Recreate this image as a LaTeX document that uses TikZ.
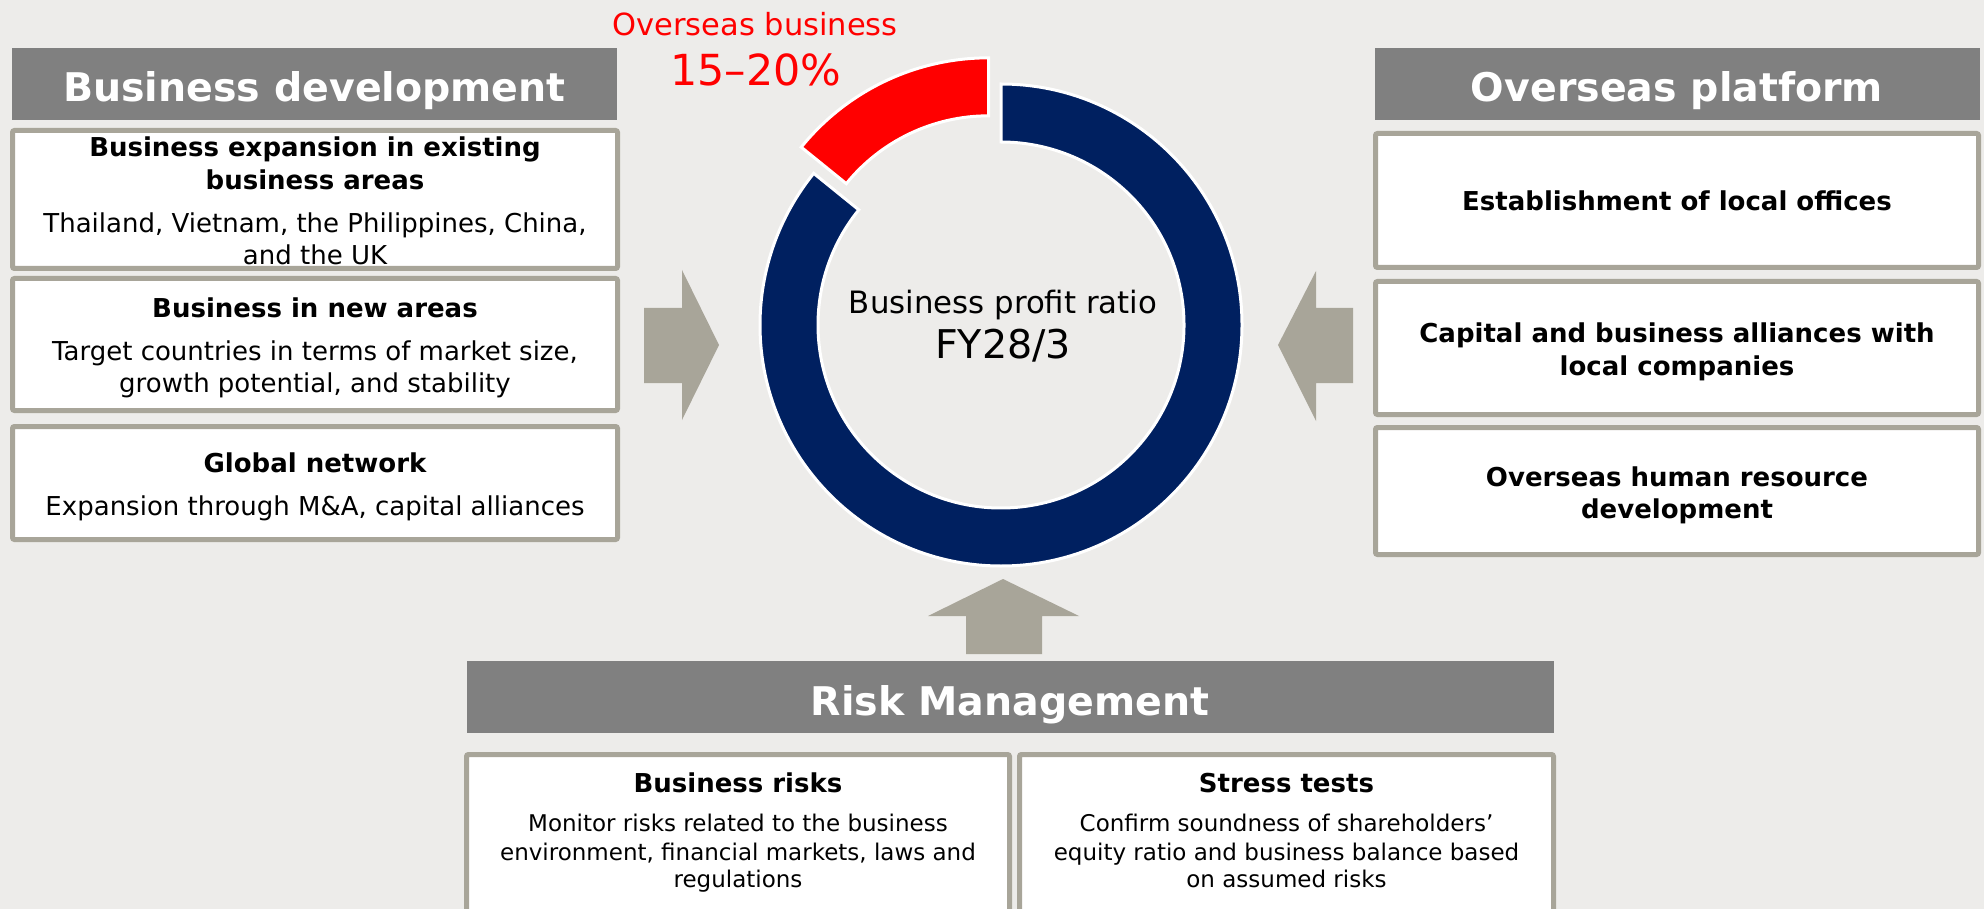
\documentclass[tikz,border=0pt]{standalone}
\usepackage{fontspec}
\setmainfont{DejaVu Sans}
\usetikzlibrary{calc}
\definecolor{bg}{RGB}{237,236,234}
\definecolor{hdr}{RGB}{128,128,128}
\definecolor{taupe}{RGB}{168,165,153}
\definecolor{navy}{RGB}{0,32,96}
\definecolor{ored}{RGB}{255,0,0}
\begin{document}
\begin{tikzpicture}[x=1pt,y=-1pt,
  hdrbox/.style={fill=hdr, draw=none, inner sep=0pt, outer sep=0pt},
  card/.style={fill=white, draw=taupe, line width=5pt, rounded corners=2pt, inner sep=0pt, outer sep=0pt},
  hdrtxt/.style={text=white, font=\bfseries\fontsize{39.5}{40}\selectfont, anchor=base, inner sep=0pt},
  ttl/.style={font=\bfseries\fontsize{26}{30}\selectfont, anchor=base, inner sep=0pt},
  bodytxt/.style={font=\fontsize{26}{30}\selectfont, anchor=base, inner sep=0pt},
  smalltxt/.style={font=\fontsize{23}{28}\selectfont, anchor=base, inner sep=0pt},
  blockarrow/.style={fill=taupe, draw=none},
  seg/.style={draw=white, line width=3pt, line join=miter}
]
\useasboundingbox (0,0) rectangle (1984,909);
\fill[bg] (0,0) rectangle (1984,909);

% ---------- Left column ----------
\node[hdrbox, minimum width=605pt, minimum height=72pt] (hBD) at (314.5,84) {};
\node[hdrtxt] (tBD) at (314.5,102) {Business development};

\node[card, minimum width=605pt, minimum height=138pt] (L1) at (315,199.5) {};
\node[ttl] (L1a) at (315,157) {Business expansion in existing};
\node[ttl] (L1b) at (315,190) {business areas};
\node[bodytxt] (L1c) at (315,233) {Thailand, Vietnam, the Philippines, China,};
\node[bodytxt] (L1d) at (315,265) {and the UK};

\node[card, minimum width=605pt, minimum height=132pt] (L2) at (315,344.5) {};
\node[ttl] (L2a) at (315,318) {Business in new areas};
\node[bodytxt] (L2b) at (315,360) {Target countries in terms of market size,};
\node[bodytxt] (L2c) at (315,392) {growth potential, and stability};

\node[card, minimum width=605pt, minimum height=113pt] (L3) at (315,483) {};
\node[ttl] (L3a) at (315,472) {Global network};
\node[bodytxt] (L3b) at (315,515) {Expansion through M\&A, capital alliances};

% ---------- Right column ----------
\node[hdrbox, minimum width=605pt, minimum height=72pt] (hOP) at (1677.5,84) {};
\node[hdrtxt] (tOP) at (1677,102) {Overseas platform};

\node[card, minimum width=603pt, minimum height=134pt] (R1) at (1677,200.5) {};
\node[ttl] (R1a) at (1677,211) {Establishment of local offices};

\node[card, minimum width=603pt, minimum height=133pt] (R2) at (1677,348) {};
\node[ttl] (R2a) at (1677,342) {Capital and business alliances with};
\node[ttl] (R2b) at (1677,375) {local companies};

\node[card, minimum width=603pt, minimum height=127pt] (R3) at (1677,491) {};
\node[ttl] (R3a) at (1677,486) {Overseas human resource};
\node[ttl] (R3b) at (1677,518) {development};

% ---------- Donut ----------
\coordinate (C) at (1001,325);
\coordinate (C2) at ($(C)+(-115.5:29)$);
\fill[navy, seg] ($(C)+(-90:241)$) arc[start angle=-90, end angle=219, radius=241]
  -- ($(C)+(219:183)$) arc[start angle=219, end angle=-90, radius=183] -- cycle;
\fill[ored, seg] ($(C2)+(-90:241)$) arc[start angle=-90, end angle=-141, radius=241]
  -- ($(C2)+(-141:183)$) arc[start angle=-141, end angle=-90, radius=183] -- cycle;
\node[font=\fontsize{30.8}{34}\selectfont, anchor=base, inner sep=0pt] (ctr1) at (1003,313) {Business profit ratio};
\node[font=\fontsize{39.6}{42}\selectfont, anchor=base, inner sep=0pt] (ctr2) at (1003,358) {FY28/3};

\node[text=ored, font=\fontsize{30.5}{34}\selectfont, anchor=base, inner sep=0pt] (red1) at (755,36) {Overseas business};
\node[text=ored, font=\fontsize{42.8}{46}\selectfont, anchor=base, inner sep=0pt] (red2) at (756,86) {15–20\%};

% ---------- Block arrows ----------
\fill[blockarrow] (644,308) -- (682,308) -- (682,270) -- (719,345) -- (682,420) -- (682,383) -- (644,383) -- cycle;
\fill[blockarrow] (1353,308) -- (1316,308) -- (1316,271) -- (1278,345) -- (1316,421) -- (1316,383) -- (1353,383) -- cycle;
\fill[blockarrow] (966,654) -- (966,616) -- (928,616) -- (1003,579) -- (1079,616) -- (1042,616) -- (1042,654) -- cycle;

% ---------- Risk management ----------
\node[hdrbox, minimum width=1087pt, minimum height=72pt] (hRM) at (1010.5,697) {};
\node[hdrtxt] (tRM) at (1010,715) {Risk Management};

\begin{scope}
\clip (0,0) rectangle (1984,909);
\node[card, minimum width=543pt, minimum height=173pt] (B1) at (738,841) {};
\node[card, minimum width=534pt, minimum height=173pt] (B2) at (1286.5,841) {};
\end{scope}
\node[ttl] (B1a) at (738,792) {Business risks};
\node[smalltxt] (B1b) at (738,831) {Monitor risks related to the business};
\node[smalltxt] (B1c) at (738,860) {environment, financial markets, laws and};
\node[smalltxt] (B1d) at (738,887) {regulations};

\node[ttl] (B2a) at (1286.5,792) {Stress tests};
\node[smalltxt] (B2b) at (1286.5,831) {Confirm soundness of shareholders’};
\node[smalltxt] (B2c) at (1286.5,860) {equity ratio and business balance based};
\node[smalltxt] (B2d) at (1286.5,887) {on assumed risks};
\end{tikzpicture}
\end{document}
